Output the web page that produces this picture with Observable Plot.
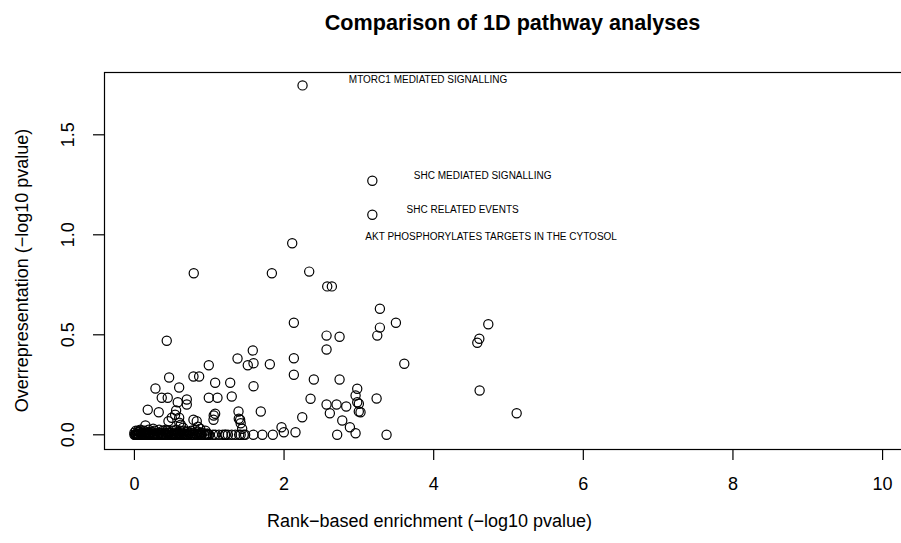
<!DOCTYPE html>
<html><head><meta charset="utf-8">
<script src="https://cdn.jsdelivr.net/npm/d3@7"></script>
<script src="https://cdn.jsdelivr.net/npm/@observablehq/plot@0.6"></script>
<style>body{margin:0;background:#fff} #c{width:901px;height:543px;overflow:hidden}</style>
</head><body><div id="c"></div><script>
const enrichment = [
 2.247,3.18,3.18,2.109,0.793,1.837,2.336,2.577,2.639,3.281,2.131,3.495,4.73,3.281,2.568,2.742,3.246,4.61,4.583,0.432,
 2.568,1.582,1.378,2.131,1.515,1.592,1.81,3.607,0.994,2.131,0.464,0.789,0.865,2.398,2.742,1.079,1.28,1.592,0.281,0.598,
 2.978,4.614,2.956,1.301,0.365,0.445,0.994,1.11,2.354,3.237,0.70,0.579,2.978,3.0,0.70,2.568,2.702,2.831,0.178,0.557,
 1.391,1.689,2.999,3.022,0.325,2.612,5.109,1.079,0.544,1.06,0.499,0.598,2.243,1.395,1.057,1.413,0.789,0.833,0.455,2.778,
 1.42,0.60,0.62,1.44,1.966,2.88,0.147,0.85,0.88,1.997,2.153,2.956,0.65,0.25,0.42,0.05,0.95,0.15,
 0,0.01,0.02,0.03,0.05,0.06,0.08,0.1,0.12,0.14,0.16,0.18,0.2,0.22,0.24,0.26,0.28,0.3,0.32,0.35,
 0.37,0.4,0.42,0.45,0.47,0.5,0.52,0.55,0.57,0.6,0.62,0.65,0.67,0.7,0.72,0.75,0.78,0.8,0.83,0.86,
 0.9,0.93,0.96,1.0,1.05,1.08,1.13,1.18,1.21,1.22,1.25,1.3,1.35,1.4,1.42,1.46,1.48,1.59,1.71,1.85,
 2.71,3.37,0.04,0.09,0.13,0.21,0.27,0.33,0.38,0.44,0.53,0.58,0.68,0.74,0.82,0.88,0.98,0.07,0.19,0.48,
 0.0,0.02,0.04,0.06,0.08,0.09,0.11,0.13,0.15,0.17,0.19,0.21,0.23,0.25,0.27,0.29,0.31,0.33,0.34,0.36,
 0.38,0.41,0.43,0.44,0.46,0.49,0.51,0.53,0.54,0.56,0.59,0.61,0.63,0.64,0.66,0.69,0.71,0.73,0.76,0.77,
 0.79,0.81,0.84,0.85,0.87,0.89,0.91,0.94,0.97,0.99
];
const overrep = [
 1.747,1.27,1.10,0.958,0.808,0.808,0.816,0.742,0.742,0.63,0.56,0.56,0.553,0.536,0.496,0.49,0.496,0.48,0.46,0.47,
 0.4265,0.4215,0.3815,0.383,0.348,0.358,0.353,0.355,0.348,0.30,0.2865,0.2915,0.2915,0.2765,0.2765,0.26,0.26,0.243,0.2315,0.2365,
 0.23,0.2215,0.1965,0.1915,0.185,0.185,0.185,0.185,0.18,0.1815,0.1765,0.163,0.163,0.155,0.1515,0.1515,0.1515,0.1415,0.125,0.1215,
 0.1165,0.1165,0.1165,0.113,0.113,0.108,0.108,0.105,0.10,0.0965,0.085,0.085,0.088,0.08,0.075,0.075,0.075,0.068,0.068,0.0715,
 0.058,0.06,0.05,0.03,0.038,0.038,0.0465,0.04,0.03,0.013,0.013,0.008,0.035,0.03,0.025,0.02,0.02,0.015,
 0,0,0,0,0,0,0,0,0,0,0,0,0,0,0,0,0,0,0,0,
 0,0,0,0,0,0,0,0,0,0,0,0,0,0,0,0,0,0,0,0,
 0,0,0,0,0,0,0,0,0,0,0,0,0,0,0,0,0,0,0,0,
 0,0,0.005,0.01,0.005,0.01,0.005,0.01,0.005,0.01,0.005,0.01,0.005,0.01,0.005,0.01,0.005,0.015,0.01,0.012,
 0.01,0.02,0.0,0.015,0.025,0.0,0.01,0.02,0.0,0.01,0.025,0.005,0.015,0.0,0.02,0.01,0.0,0.025,0.01,0.0,
 0.02,0.01,0.0,0.02,0.01,0.0,0.02,0.01,0.0,0.025,0.005,0.02,0.0,0.01,0.02,0.0,0.015,0.005,0.02,0.0,
 0.01,0.025,0.0,0.015,0.005,0.0,0.01,0.0,0.005,0.0
];
const labelNames = ["MTORC1 MEDIATED SIGNALLING","SHC MEDIATED SIGNALLING","SHC RELATED EVENTS","AKT PHOSPHORYLATES TARGETS IN THE CYTOSOL"];
const labelX = [3.925,4.654,4.387,4.768];
const labelY = [1.777,1.297,1.127,0.992];
const xTicks = [0,2,4,6,8,10];
const yTicks = [0,0.5,1,1.5];
const title = "Comparison of 1D pathway analyses";
const xLabel = "Rank\u2212based enrichment (\u2212log10 pvalue)";
const yLabel = "Overrepresentation (\u2212log10 pvalue)";

const points = enrichment.map((x,i)=>({x, y: overrep[i]}));
const labels = labelNames.map((t,i)=>({t, x: labelX[i], y: labelY[i]}));
const F = "Liberation Sans, Arial, Helvetica, sans-serif";

const chart = Plot.plot({
  width: 901, height: 543,
  marginLeft: 104, marginRight: -11, marginTop: 72, marginBottom: 94,
  style: {fontFamily: F, background: "white", overflow: "hidden", color: "black"},
  x: {domain: [-0.4, 10.4]},
  y: {domain: [-0.0735, 1.8115]},
  marks: [
    Plot.frame({stroke: "black", strokeWidth: 1.2}),
    Plot.dot(points, {x: "x", y: "y", r: 4.6, stroke: "black", strokeWidth: 1.2, fill: "none"}),
    Plot.text(labels, {x: "x", y: "y", text: "t", fontSize: 10, fill: "black", textAnchor: "middle"}),
    Plot.axisX({ticks: xTicks, tickSize: 11, tickPadding: 17, fontSize: 18, label: null, strokeWidth: 1.2}),
    Plot.axisY({ticks: yTicks, tickSize: 11, tickFormat: () => "", label: null, strokeWidth: 1.2}),
    Plot.text(yTicks, {y: d => d, text: d => d.toFixed(1), frameAnchor: "left", dx: -36.5, rotate: -90, textAnchor: "middle", lineAnchor: "middle", fontSize: 18, fill: "black"}),
    Plot.text([title], {frameAnchor: "top", dx: 4, dy: -49, textAnchor: "middle", lineAnchor: "middle", fontSize: 21.6, fontWeight: "bold", fill: "black"}),
    Plot.text([xLabel], {frameAnchor: "bottom", dx: -79, dy: 72, textAnchor: "middle", lineAnchor: "middle", fontSize: 18, fill: "black"}),
    Plot.text([yLabel], {frameAnchor: "left", dx: -82, dy: 9.5, rotate: -90, textAnchor: "middle", lineAnchor: "middle", fontSize: 18, fill: "black"})
  ]
});
document.getElementById("c").appendChild(chart);
</script></body></html>
